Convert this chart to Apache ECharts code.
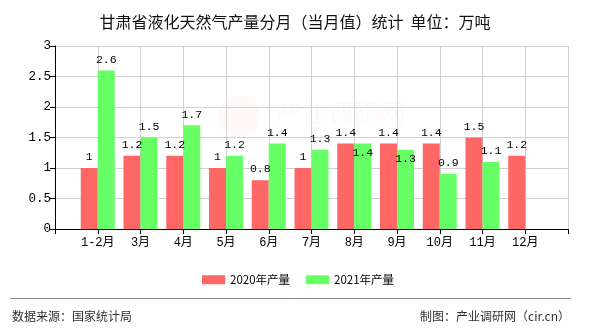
<!DOCTYPE html>
<html>
<head>
<meta charset="utf-8">
<script src="https://cdn.jsdelivr.net/npm/echarts@6/dist/echarts.min.js"></script>
<style>
  html, body { margin: 0; padding: 0; background: #fff; }
  #chart { width: 590px; height: 330px; }
</style>
</head>
<body>
<div id="chart"></div>
<script>
// Monthly LNG output, Gansu province (10k tonnes)
var months = ['1-2月', '3月', '4月', '5月', '6月', '7月', '8月', '9月', '10月', '11月', '12月'];
var output2020 = [1, 1.2, 1.2, 1, 0.8, 1, 1.4, 1.4, 1.4, 1.5, 1.2];
var output2021 = [2.6, 1.5, 1.7, 1.2, 1.4, 1.3, 1.4, 1.3, 0.9, 1.1, null];
var seriesNames = ['2020年产量', '2021年产量'];
var yTicks = { min: 0, max: 3, interval: 0.5 };

// labels of these 2021 bars sit inside the bar to avoid the 2020 labels
var shiftedLabels2021 = ['8月', '9月'];

var monoFont = '"Liberation Mono", "DejaVu Sans Mono", "Noto Sans CJK SC", monospace';
var cjkFont = '"Noto Sans CJK SC", "Liberation Sans", sans-serif';

// padded category list so the months sit on ticks with an empty slot at each end
var axisCats = [''].concat(months).concat(['']);
function pad(arr) { return [null].concat(arr).concat([null]); }

function itemsFor(values, shifted) {
  return pad(values).map(function (v, i) {
    var item = { value: v };
    if (shifted && shifted.indexOf(axisCats[i]) >= 0) {
      item.label = { offset: [0, 20] };
    }
    return item;
  });
}

var chart = echarts.init(document.getElementById('chart'), null, { renderer: 'canvas' });

var labelStyle = {
  show: true,
  position: 'top',
  distance: 5,
  color: '#000',
  fontFamily: monoFont,
  fontSize: 11.5
};

chart.setOption({
  animation: false,
  backgroundColor: '#fff',
  title: {
    text: '甘肃省液化天然气产量分月（当月值）统计  单位：万吨',
    left: 'center',
    top: 9,
    textStyle: { fontFamily: cjkFont, fontSize: 16, fontWeight: 'normal', color: '#111' }
  },
  grid: { left: 55, right: 22, top: 46, bottom: 101 },
  legend: {
    left: 197,
    top: 269,
    itemWidth: 23,
    itemHeight: 9,
    itemGap: 16,
    icon: 'rect',
    textStyle: { fontFamily: cjkFont, fontSize: 11.5, color: '#000' },
    data: seriesNames
  },
  xAxis: {
    type: 'category',
    data: axisCats,
    boundaryGap: false,
    axisLine: { lineStyle: { color: '#000', width: 1 } },
    axisTick: { show: true, length: 5, lineStyle: { color: '#000' }, interval: 0 },
    axisLabel: { interval: 0, margin: 8, color: '#000', fontFamily: monoFont, fontSize: 12 },
    splitLine: { show: true, interval: 0, lineStyle: { color: '#d0d0d0', width: 1 } }
  },
  yAxis: {
    type: 'value',
    min: yTicks.min,
    max: yTicks.max,
    interval: yTicks.interval,
    axisLine: { show: true, lineStyle: { color: '#000', width: 1 } },
    axisTick: { show: true, length: 5, lineStyle: { color: '#000' } },
    axisLabel: { margin: 4, color: '#000', fontFamily: monoFont, fontSize: 12.5 },
    splitLine: { show: true, lineStyle: { color: '#d0d0d0', width: 1 } }
  },
  series: [
    {
      name: seriesNames[0],
      type: 'bar',
      barWidth: 17,
      barGap: '0%',
      itemStyle: { color: '#ff6666' },
      label: labelStyle,
      data: itemsFor(output2020, null)
    },
    {
      name: seriesNames[1],
      type: 'bar',
      barWidth: 17,
      barGap: '0%',
      itemStyle: { color: '#66ff66' },
      label: labelStyle,
      data: itemsFor(output2021, shiftedLabels2021)
    }
  ],
  graphic: [
    {
      type: 'circle', z: 0, silent: true,
      shape: { cx: 239, cy: 116, r: 21 },
      style: { fill: 'rgba(240,130,130,0.06)' }
    },
    {
      type: 'text',
      left: 275, top: 100, z: 0, silent: true,
      style: { text: '产业调研网', fontFamily: cjkFont, fontSize: 26, fill: 'rgba(235,120,120,0.05)' }
    },
    {
      type: 'line', z: 10,
      shape: { x1: 10, y1: 298.5, x2: 571, y2: 298.5 },
      style: { stroke: '#888', lineWidth: 1 }
    },
    {
      type: 'text', left: 12, top: 310,
      style: { text: '数据来源：国家统计局', fontFamily: cjkFont, fontSize: 12, fill: '#333' }
    },
    {
      type: 'text', right: 20, top: 310,
      style: { text: '制图：产业调研网（cir.cn）', fontFamily: cjkFont, fontSize: 12, fill: '#333' }
    }
  ]
});
</script>
</body>
</html>
